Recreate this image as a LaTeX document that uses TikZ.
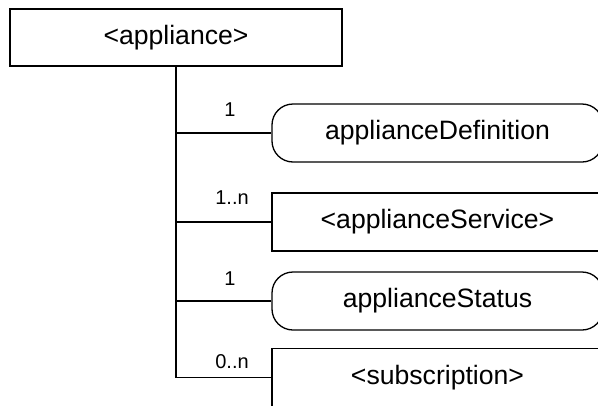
\documentclass[tikz,border=0pt]{standalone}
\usepackage{fontspec}
\setmainfont{Liberation Sans}
\begin{document}
\begin{tikzpicture}[x=1pt,y=-1pt,
  line width=1.3pt,
  mainfont/.style={font=\fontsize{26.6}{30}\selectfont},
  cardfont/.style={font=\fontsize{20}{22}\selectfont},
  elem/.style={draw, mainfont, minimum width=331pt, minimum height=58pt, inner sep=0pt},
  attr/.style={elem, rounded corners=21pt},
  card/.style={cardfont, inner sep=0pt}]
\useasboundingbox (0,0) rectangle (598,405);
\clip (0,0) rectangle (598,405);
\node[draw, mainfont, minimum width=332pt, minimum height=57pt, inner sep=0pt] (top) at (176,37.5) {<appliance>};
\node[attr] (def) at (437.5,133) {applianceDefinition};
\node[elem] (svc) at (437.5,222) {<applianceService>};
\node[attr] (sts) at (437.5,301) {applianceStatus};
\node[elem] (sub) at (437.5,377.5) {<subscription>};
\draw (top.south) -- (top.south |- sub.west);
\draw (top.south |- def.west) -- (def.west);
\draw (top.south |- svc.west) -- (svc.west);
\draw (top.south |- sts.west) -- (sts.west);
\draw (top.south |- sub.west) -- (sub.west);
\node[card] (c1) at (230,110) {1};
\node[card] (c2) at (232,198) {1..n};
\node[card] (c3) at (230,279) {1};
\node[card] (c4) at (232,362) {0..n};
\end{tikzpicture}
\end{document}
